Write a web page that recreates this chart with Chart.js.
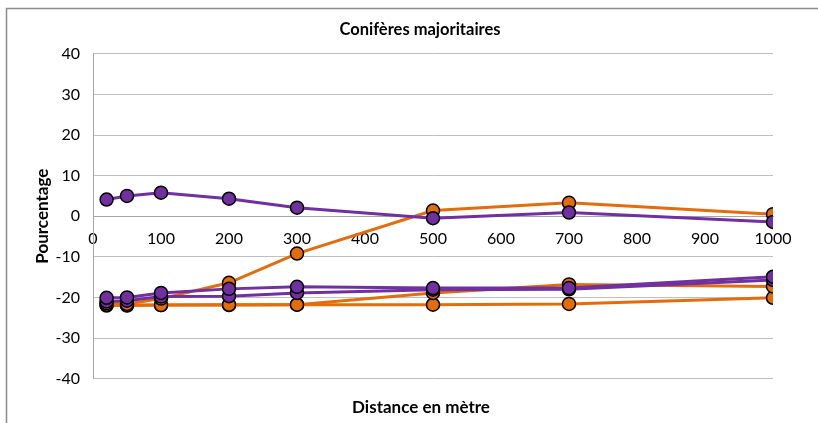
<!DOCTYPE html>
<html><head><meta charset="utf-8">
<script src="https://cdn.jsdelivr.net/npm/chart.js@4/dist/chart.umd.min.js"></script>
<style>html,body{margin:0;padding:0;background:#fff}#wrap{width:818px;height:423px;position:relative}</style>
</head><body><div id="wrap"><canvas id="c" width="818" height="423"></canvas></div>
<script>
const distances = [20, 50, 100, 200, 300, 500, 700, 1000];
const purple1 = [4.1, 5.0, 5.8, 4.3, 2.1, -0.5, 0.9, -1.4];
const purple2 = [-20.1, -20.0, -18.9, -17.9, -17.4, -17.7, -17.7, -14.9];
const purple3 = [-21.0, -20.8, -19.8, -19.7, -18.9, -18.1, -18.0, -15.7];
const orange1 = [-21.4, -21.6, -20.3, -16.4, -9.2, 1.4, 3.3, 0.5];
const orange2 = [-21.8, -21.9, -21.9, -21.8, -21.8, -18.9, -16.8, -17.3];
const orange3 = [-22.0, -22.0, -21.9, -21.9, -21.8, -21.8, -21.6, -20.1];
const yTicks = [-40, -30, -20, -10, 0, 10, 20, 30, 40];

const PURPLE = '#7030A0', ORANGE = '#E46C0A';
function ds(data, color) {
  return {
    data: distances.map((d, i) => ({x: d, y: data[i]})),
    borderColor: color, backgroundColor: color, borderWidth: 3,
    pointRadius: 6.5, pointHoverRadius: 6.5, pointBorderColor: '#000', pointBorderWidth: 1.5,
    pointBackgroundColor: color, tension: 0
  };
}
const frame = {
  id: 'frame',
  afterLayout(chart) {
    chart.boxes.forEach(b => {
      if (b.options && b.options.text === 'Conifères majoritaires') { b.left = 0; b.right = 840; }
      if (b.options && b.options.text === 'Distance en mètre') { b.left = 0; b.right = 842; }
    });
  },
  beforeDraw(chart) {
    const ctx = chart.ctx;
    ctx.save();
    ctx.strokeStyle = '#8c8c8c'; ctx.lineWidth = 1.5;
    ctx.beginPath();
    ctx.moveTo(6.5, 430); ctx.lineTo(6.5, 8.5); ctx.lineTo(830, 8.5);
    ctx.stroke();
    ctx.restore();
  }
};
new Chart(document.getElementById('c'), {
  type: 'line',
  data: { datasets: [ds(purple1, PURPLE), ds(purple2, PURPLE), ds(purple3, PURPLE), ds(orange1, ORANGE), ds(orange2, ORANGE), ds(orange3, ORANGE)] },
  options: {
    responsive: false, animation: false,
    layout: { padding: { left: 0, right: 45, top: 0, bottom: 0 } },
    plugins: {
      legend: { display: false }, tooltip: { enabled: false },
      title: { display: true, text: 'Conifères majoritaires', color: '#000',
        font: { family: 'Lato', size: 16.5, weight: 'bold' }, padding: { top: 20, bottom: 14 } },
      subtitle: { display: true, position: 'bottom', text: 'Distance en mètre', color: '#000',
        font: { family: 'Lato', size: 17, weight: 'bold' }, padding: { top: 19, bottom: 5 } }
    },
    scales: {
      x: {
        type: 'linear', position: { y: 0 }, min: 0, max: 1000,
        ticks: { stepSize: 100, color: '#000', font: { family: 'Lato', size: 16 }, padding: 13,
          callback: v => String(v) },
        grid: { display: false, drawTicks: false },
        border: { display: true, color: '#a6a6a6', width: 1 }
      },
      y: {
        min: -40, max: 40,
        afterBuildTicks: s => { s.ticks = yTicks.map(v => ({ value: v })); },
        afterFit: s => { s.width = 93; },
        ticks: { color: '#000', font: { family: 'Lato', size: 16 }, padding: 13, callback: v => String(v) },
        grid: { color: '#bfbfbf', lineWidth: 1, drawTicks: false },
        border: { display: true, color: '#a6a6a6', width: 1 },
        title: { display: true, text: 'Pourcentage', color: '#000',
          font: { family: 'Lato', size: 17, weight: 'bold' }, padding: { top: 32, bottom: 0 } }
      }
    }
  },
  plugins: [frame]
});
</script></body></html>
